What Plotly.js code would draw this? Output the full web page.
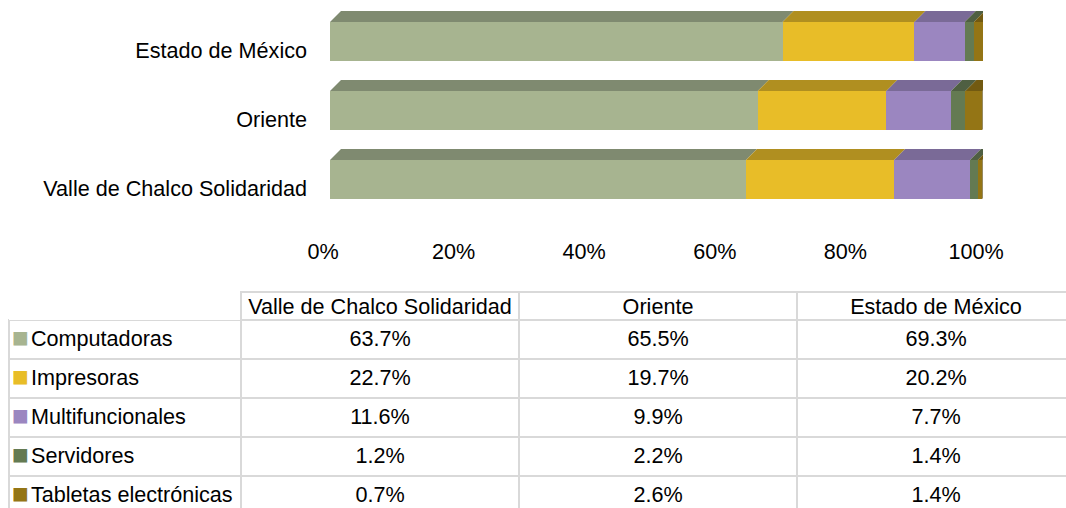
<!DOCTYPE html>
<html>
<head>
<meta charset="utf-8">
<script src="https://cdn.plot.ly/plotly-3.0.1.min.js"></script>
<style>
html,body{margin:0;padding:0;overflow:hidden;background:#fff;width:1066px;height:508px;}
#chart{width:1075px;height:530px;}
</style>
</head>
<body>
<div id="chart"></div>
<script>
// ---- data ----
const categories = ['Valle de Chalco Solidaridad', 'Oriente', 'Estado de México'];
const seriesNames = ['Computadoras', 'Impresoras', 'Multifuncionales', 'Servidores', 'Tabletas electrónicas'];
const valleValues   = [63.7, 22.7, 11.6, 1.2, 0.7];
const orienteValues = [65.5, 19.7, 9.9, 2.2, 2.6];
const estadoValues  = [69.3, 20.2, 7.7, 1.4, 1.4];
const xTickVals  = [0, 20, 40, 60, 80, 100];
const xTickText  = ['0%', '20%', '40%', '60%', '80%', '100%'];

// ---- style ----
const frontColors = ['#a7b490', '#e8bd28', '#9b86c0', '#647a52', '#947515'];
const topColors   = ['#7f8a70', '#b08f20', '#7a6a97', '#4f5f42', '#725a11'];
const capColor    = '#5e4a0d';
const FONT = 'Liberation Sans, Arial, sans-serif';
const FS = 21.6;
const TXT = '#000';
const GRID = '#d9d9d9';
const CLEAR = 'rgba(0,0,0,0)';
const W = 1075, H = 530;
const barWidth = 0.565;
const depthX = 1.68;   // depth of the 3D effect, in % units
const depthY = 0.16;   // depth of the 3D effect, in category units

const byCategory = [valleValues, orienteValues, estadoValues];
const yPos = categories.map((c, i) => i);
const nb = s => s.replace(/ /g, '\u00a0');

const traces = [];
// front faces: stacked bars
seriesNames.forEach((name, s) => {
  traces.push({
    type: 'bar', orientation: 'h', name: name,
    y: yPos, x: byCategory.map(v => v[s]),
    width: barWidth,
    marker: {color: frontColors[s], line: {width: 0}},
    showlegend: false, hoverinfo: 'x+name'
  });
});
// top faces and end caps computed from the cumulative data
byCategory.forEach((vals, i) => {
  const yt = yPos[i] + barWidth / 2;
  const yb = yPos[i] - barWidth / 2;
  let cum = 0;
  vals.forEach((v, s) => {
    const x0 = cum, x1 = cum + v;
    cum = x1;
    traces.push({
      type: 'scatter', mode: 'lines', fill: 'toself',
      x: [x0, x0 + depthX, x1 + depthX, x1, x0],
      y: [yt, yt + depthY, yt + depthY, yt, yt],
      line: {width: 0, color: topColors[s]}, fillcolor: topColors[s],
      showlegend: false, hoverinfo: 'skip'
    });
  });
  traces.push({
    type: 'scatter', mode: 'lines', fill: 'toself',
    x: [cum, cum + depthX, cum + depthX, cum, cum],
    y: [yb, yb + depthY, yt + depthY, yt, yb],
    line: {width: 0, color: capColor}, fillcolor: capColor,
    showlegend: false, hoverinfo: 'skip'
  });
});

// data table: grid (lines only)
const blank = seriesNames.map(() => '');
traces.push({
  type: 'table',
  domain: {x: [9 / W, 1], y: [0, 1 - 292 / H]},
  columnwidth: [232, 278, 278, 278],
  header: {
    values: [[''], [''], [''], ['']], height: 28,
    fill: {color: 'white'},
    line: {color: [CLEAR, GRID, GRID, GRID], width: 2}
  },
  cells: {
    values: [blank, blank, blank, blank], height: 39,
    fill: {color: 'white'},
    line: {color: GRID, width: 2}
  }
});
// data table: texts
const fmt = v => v.toFixed(1) + '%';
traces.push({
  type: 'table',
  domain: {x: [23 / W, 1], y: [0, 1 - 290 / H]},
  columnwidth: [218, 278, 278, 278],
  header: {
    values: [[''], [nb(categories[0])], [nb(categories[1])], [nb(categories[2])]],
    align: 'center', height: 31.5,
    font: {family: FONT, size: FS, color: TXT},
    fill: {color: CLEAR},
    line: {color: CLEAR, width: 0}
  },
  cells: {
    values: [seriesNames.map(nb), valleValues.map(fmt), orienteValues.map(fmt), estadoValues.map(fmt)],
    align: ['left', 'center', 'center', 'center'], height: 39,
    font: {family: FONT, size: FS, color: TXT},
    fill: {color: CLEAR},
    line: {color: CLEAR, width: 0}
  }
});
// data table: legend keys
traces.push({
  type: 'table',
  domain: {x: [13 / W, 28 / W], y: [0, 1 - 286 / H]},
  columnwidth: [15],
  header: {
    values: [['']], height: 31.5,
    fill: {color: CLEAR},
    line: {color: CLEAR, width: 0}
  },
  cells: {
    values: [seriesNames.map(() => '■')],
    align: 'center', height: 39,
    font: {family: FONT, size: 28, color: [frontColors]},
    fill: {color: CLEAR},
    line: {color: CLEAR, width: 0}
  }
});

const layout = {
  width: W, height: H,
  margin: {l: 0, r: 0, t: 0, b: 0},
  paper_bgcolor: 'white', plot_bgcolor: 'white',
  barmode: 'stack',
  showlegend: false,
  font: {family: FONT, size: FS, color: TXT},
  xaxis: {
    domain: [330 / W, 983 / W], range: [0, 100],
    tickvals: xTickVals, ticktext: xTickText,
    showgrid: false, zeroline: false, showline: false, ticks: '',
    ticklabelshift: -7, ticklabelstandoff: 22,
    tickfont: {family: FONT, size: FS, color: TXT},
    fixedrange: true
  },
  yaxis: {
    domain: [1 - 214 / H, 1 - 7 / H], range: [-0.5, 2.5],
    tickvals: yPos, ticktext: categories,
    showgrid: false, zeroline: false, showline: false, ticks: '',
    ticklabelshift: 9, ticklabelstandoff: 22,
    tickfont: {family: FONT, size: FS, color: TXT},
    fixedrange: true
  }
};

Plotly.newPlot('chart', traces, layout, {displayModeBar: false, staticPlot: true});
</script>
</body>
</html>
